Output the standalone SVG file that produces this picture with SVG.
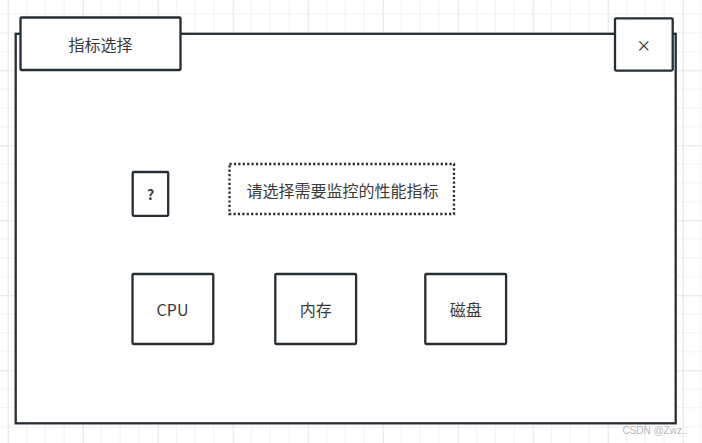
<svg xmlns="http://www.w3.org/2000/svg" width="702" height="443" viewBox="0 0 702 443">
<style>
.box{fill:#ffffff;stroke:#262d34;stroke-width:2.3}
.dot{fill:#ffffff;stroke:#262d34;stroke-width:2.3;stroke-dasharray:2.2 2.2}
.t{font-family:"Microsoft YaHei","Noto Sans CJK SC","Noto Sans",sans-serif;font-size:16px;fill:#3a3a3a;text-anchor:middle;dominant-baseline:central}
.minor{stroke:#f0f0f0;stroke-width:1}
.major{stroke:#e4e4e4;stroke-width:1}
</style>
<defs>
<pattern id="grid" patternUnits="userSpaceOnUse" x="7.7" y="70.3" width="75" height="75">
<line class="minor" x1="18.75" y1="0" x2="18.75" y2="75"/>
<line class="minor" x1="37.5" y1="0" x2="37.5" y2="75"/>
<line class="minor" x1="56.25" y1="0" x2="56.25" y2="75"/>
<line class="minor" x1="0" y1="18.75" x2="75" y2="18.75"/>
<line class="minor" x1="0" y1="37.5" x2="75" y2="37.5"/>
<line class="minor" x1="0" y1="56.25" x2="75" y2="56.25"/>
<line class="major" x1="0.5" y1="0" x2="0.5" y2="75"/>
<line class="major" x1="0" y1="0.5" x2="75" y2="0.5"/>
</pattern>
</defs>
<rect x="0" y="0" width="702" height="443" fill="#ffffff"/>
<rect x="0" y="0" width="702" height="443" fill="url(#grid)"/>
<g id="window">
<rect class="box" x="15.7" y="33.8" width="660" height="389.5"/>
</g>
<g id="title">
<rect class="box" x="20.5" y="17.5" width="160" height="52.5" rx="1"/>
<text class="t" x="100.5" y="44">指标选择</text>
</g>
<g id="close">
<rect class="box" x="615" y="18.3" width="57.7" height="52.3" rx="1"/>
<text class="t" x="643.8" y="44.5" style="font-size:15px;fill:#222">×</text>
</g>
<g id="help">
<rect class="box" x="132.7" y="172" width="35.5" height="43.8" rx="1"/>
<text class="t" x="150.5" y="194" style="font-weight:bold;font-size:14px">?</text>
</g>
<g id="prompt">
<rect class="dot" x="229.5" y="164" width="224.5" height="50"/>
<text class="t" x="342.5" y="189.5">请选择需要监控的性能指标</text>
</g>
<g id="cpu">
<rect class="box" x="132.5" y="274" width="80.8" height="70" rx="1"/>
<text class="t" x="172.5" y="309">CPU</text>
</g>
<g id="memory">
<rect class="box" x="275.3" y="274" width="80.8" height="70" rx="1"/>
<text class="t" x="315.7" y="309">内存</text>
</g>
<g id="disk">
<rect class="box" x="425.3" y="274" width="80.8" height="70" rx="1"/>
<text class="t" x="465.7" y="309">磁盘</text>
</g>
<g id="connectors"/>
<text x="655" y="430" style="font-family:'Liberation Sans',Arial,sans-serif;font-size:10px;fill:#b8b8b8;text-anchor:middle;dominant-baseline:central">CSDN @Zwz..</text>
</svg>
